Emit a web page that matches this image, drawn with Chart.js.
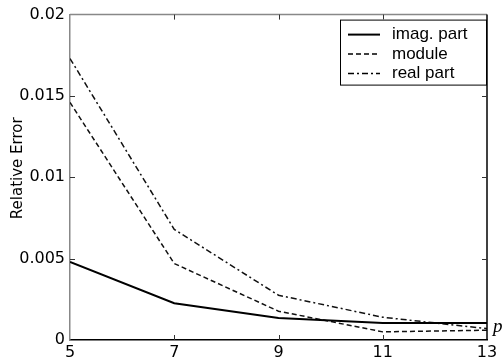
<!DOCTYPE html>
<html>
<head>
<meta charset="utf-8">
<script src="https://cdn.jsdelivr.net/npm/chart.js@4.4.0/dist/chart.umd.min.js"></script>
<style>
  html, body { margin: 0; padding: 0; background: #fff; }
  #wrap { width: 503px; height: 364px; }
</style>
</head>
<body>
<div id="wrap"><canvas id="canvas"></canvas></div>
<script>
// data
var pValues = [5, 7, 9, 11, 13];
var imagPart = [0.0048, 0.00226, 0.00135, 0.00105, 0.00105];
var modulePart = [0.0146, 0.0047, 0.00177, 0.0005, 0.0006];
var realPart = [0.0173, 0.0068, 0.00275, 0.0014, 0.0007];
var yTickLabels = ['0', '0.005', '0.01', '0.015', '0.02'];
var yTitle = 'Relative Error';
var xTitle = 'p';

function pts(arr) {
  return arr.map(function (v, i) { return { x: pValues[i], y: v }; });
}

// frame, inward ticks, legend box, axis titles
var framePlugin = {
  id: 'frame',
  afterDatasetsDraw: function (chart) {
    var ctx = chart.ctx, a = chart.chartArea;
    var xs = chart.scales.x, ys = chart.scales.y;
    ctx.save();
    ctx.lineWidth = 1.5;
    // top (gray) and right (black) borders
    ctx.strokeStyle = '#888';
    ctx.beginPath(); ctx.moveTo(a.left, a.top); ctx.lineTo(a.right, a.top); ctx.stroke();
    ctx.strokeStyle = '#000';
    ctx.beginPath(); ctx.moveTo(a.right, a.top); ctx.lineTo(a.right, a.bottom); ctx.stroke();

    ctx.lineWidth = 1;
    ctx.strokeStyle = '#333';
    xs.ticks.forEach(function (t) {
      var px = Math.round(xs.getPixelForValue(t.value)) + 0.5;
      if (t.value === xs.min || t.value === xs.max) return;
      ctx.beginPath();
      ctx.moveTo(px, a.bottom); ctx.lineTo(px, a.bottom - 5);
      ctx.moveTo(px, a.top); ctx.lineTo(px, a.top + 5);
      ctx.stroke();
    });
    ys.ticks.forEach(function (t) {
      var py = Math.round(ys.getPixelForValue(t.value)) + 0.5;
      if (t.value === ys.min || t.value === ys.max) return;
      ctx.beginPath();
      ctx.moveTo(a.left, py); ctx.lineTo(a.left + 5, py);
      ctx.moveTo(a.right, py); ctx.lineTo(a.right - 5, py);
      ctx.stroke();
    });

    // legend
    var bx = a.right - 147, by = a.top + 5, bw = 146, bh = 65;
    ctx.fillStyle = '#fff';
    ctx.fillRect(bx, by, bw, bh);
    ctx.strokeStyle = '#000';
    ctx.lineWidth = 1;
    ctx.strokeRect(bx + 0.5, by + 0.5, bw, bh);
    ctx.font = '17px "Liberation Sans", Arial, sans-serif';
    ctx.textBaseline = 'middle';
    chart.data.datasets.forEach(function (ds, i) {
      var ry = by + 15 + i * 19.5;
      ctx.strokeStyle = '#000';
      ctx.lineWidth = ds.borderWidth;
      ctx.setLineDash(ds.borderDash || []);
      ctx.beginPath(); ctx.moveTo(bx + 8, ry); ctx.lineTo(bx + 40, ry); ctx.stroke();
      ctx.setLineDash([]);
      ctx.fillStyle = '#000';
      ctx.fillText(ds.label, bx + 52, ry);
    });

    // y title
    ctx.fillStyle = '#000';
    ctx.font = '15px "DejaVu Sans", Verdana, sans-serif';
    ctx.textAlign = 'center';
    ctx.textBaseline = 'middle';
    ctx.translate(18, (a.top + a.bottom) / 2 - 9);
    ctx.rotate(-Math.PI / 2);
    ctx.fillText(yTitle, 0, 0);
    ctx.setTransform(1, 0, 0, 1, 0, 0);

    // axis variable
    ctx.font = 'italic 19px "Liberation Serif", "Times New Roman", serif';
    ctx.textAlign = 'left';
    ctx.textBaseline = 'alphabetic';
    ctx.fillText(xTitle, a.right + 6, a.bottom - 8);
    ctx.restore();
  }
};

var config = {
  type: 'line',
  data: {
    datasets: [
      {
        label: 'imag. part',
        data: pts(imagPart),
        borderColor: '#000',
        borderWidth: 2,
        borderDash: [],
        pointRadius: 0,
        tension: 0
      },
      {
        label: 'module',
        data: pts(modulePart),
        borderColor: '#111',
        borderWidth: 1.5,
        borderDash: [5, 3],
        pointRadius: 0,
        tension: 0
      },
      {
        label: 'real part',
        data: pts(realPart),
        borderColor: '#111',
        borderWidth: 1.5,
        borderDash: [6, 3, 2, 3],
        pointRadius: 0,
        tension: 0
      }
    ]
  },
  options: {
    responsive: true,
    maintainAspectRatio: false,
    animation: false,
    layout: { padding: { top: 13, right: 16, left: 0, bottom: 0 } },
    plugins: {
      legend: { display: false },
      tooltip: { enabled: false }
    },
    scales: {
      x: {
        type: 'linear',
        min: 5,
        max: 13,
        grid: { display: false, drawTicks: false },
        border: { color: '#000', width: 1.5 },
        ticks: {
          stepSize: 2,
          padding: 3,
          color: '#000',
          font: { family: '"DejaVu Sans", Verdana, sans-serif', size: 16 }
        },
        afterFit: function (s) { s.height = 24; }
      },
      y: {
        min: 0,
        max: 0.02,
        grid: { display: false, drawTicks: false },
        border: { color: '#888', width: 1.5 },
        ticks: {
          stepSize: 0.005,
          padding: 5,
          color: '#000',
          font: { family: '"DejaVu Sans", Verdana, sans-serif', size: 16 },
          callback: function (v, i) { return yTickLabels[i]; }
        },
        afterFit: function (s) { s.width = 70; }
      }
    }
  },
  plugins: [framePlugin]
};

window.onload = function () {
  var ctx = document.getElementById('canvas').getContext('2d');
  window.myLine = new Chart(ctx, config);
};
</script>
</body>
</html>
